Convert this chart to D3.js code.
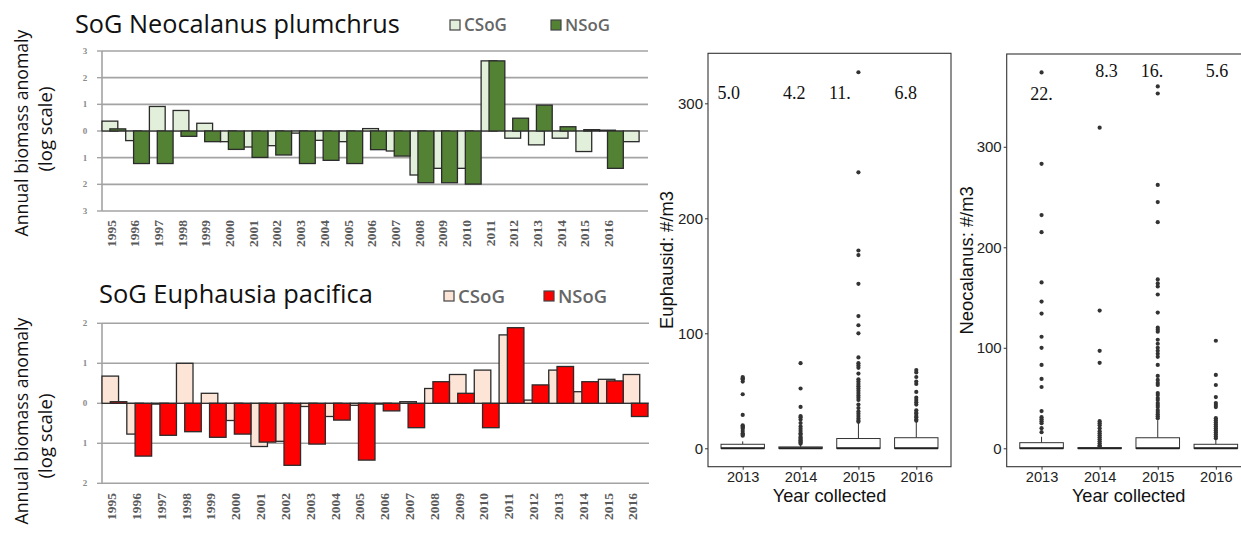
<!DOCTYPE html>
<html><head><meta charset="utf-8">
<script src="https://cdn.jsdelivr.net/npm/d3@7"></script>
<style>body{margin:0;background:#fff;} svg{display:block;}</style>
</head><body><svg id="c" width="1241" height="533"></svg>
<script>
// ---------- data: left anomaly bar charts ----------
const neoCategories = ["1995","1996","1997","1998","1999","2000","2001","2002","2003","2004","2005","2006","2007","2008","2009","2010","2011","2012","2013","2014","2015","2016",""];
const neoCSoG = [0.37,-0.36,0.92,0.77,0.29,-0.40,-0.60,-0.55,-0.08,-0.35,-0.40,0.09,-0.75,-1.65,-1.40,-1.40,2.63,-0.27,-0.52,-0.27,-0.77,0.03,-0.40];
const neoNSoG = [0.08,-1.22,-1.22,-0.20,-0.40,-0.69,-0.99,-0.90,-1.22,-1.10,-1.22,-0.70,-0.94,-1.94,-1.94,-1.99,2.63,0.48,0.97,0.16,0.05,-1.40,0];
const neoTicks = [3,2,1,0,-1,-2,-3];
const neoTickLabels = ["3","2","1","0","1","2","3"];

const euphCategories = ["1995","1996","1997","1998","1999","2000","2001","2002","2003","2004","2005","2006","2007","2008","2009","2010","2011","2012","2013","2014","2015","2016"];
const euphCSoG = [0.68,-0.77,-0.02,1.00,0.25,-0.43,-1.08,-0.95,-0.08,-0.33,-0.05,-0.02,0.04,0.37,0.72,0.83,1.71,0.08,0.83,0.29,0.60,0.72];
const euphNSoG = [0.04,-1.32,-0.80,-0.71,-0.85,-0.77,-0.97,-1.55,-1.02,-0.42,-1.42,-0.19,-0.61,0.54,0.25,-0.61,1.89,0.46,0.92,0.54,0.56,-0.33];
const euphTicks = [2,1,0,-1,-2];
const euphTickLabels = ["2","1","0","1","2"];
const seriesNames = ["CSoG","NSoG"];

// ---------- data: right box plots ----------
const boxYears = ["2013","2014","2015","2016"];
const boxTicks = [0,100,200,300];

const euBoxQ1 = [0,0,0,0];
const euBoxMedian = [0,0,0,0];
const euBoxQ3 = [3.5,1.2,8.5,9.2];
const euBoxWhiskerHi = [6,3,22,24];
const euOutliers = [
  [62,61,60,58,47,29,20,19,18,17,15,13,12,11],
  [74,52,36,28,27,25,22,19,17,15,13,12,10,9,8,7,6,5,4],
  [327,240,172,168,143,115,107,100,79,74,72,70,65,60,58,56,54,52,50,48,46,44,42,38,35,32,30,28,26,24,23],
  [68,66,62,58,56,49,44,42,40,38,33,31,30,28,27,25,24]
];
const euMeanText = ["5.0","4.2","11.","6.8"];
const euMeanX = [-0.24,0.89,1.68,2.82];
const euMeanY = [309,309,309,309];

const neBoxQ1 = [0,0,0,0];
const neBoxMedian = [0,0,0,0];
const neBoxQ3 = [5.6,0.5,10.5,4];
const neBoxWhiskerHi = [11.5,1,28,9];
const neOutliers = [
  [374,283,232,215,165,146,134,111,100,83,69,61,37,31,29,27,25,20,16],
  [319,137,97,85,27,25,23,20,17,15,13,11,9,7,5,3,2],
  [360,353,262,245,225,168,164,161,153,135,120,118,116,108,104,100,97,94,91,83,72,68,65,63,55,53,50,48,45,43,41,38,36,34,32,30],
  [107,73,63,51,45,43,41,30,28,26,24,22,20,18,16,14,12,10]
];
const neMeanText = ["22.","8.3","16.","5.6"];
const neMeanX = [0,1.12,1.9,3.02];
const neMeanY = [353,376,376,376];

// ---------- drawing ----------
const svg = d3.select("#c");
svg.append("rect").attr("width",1241).attr("height",533).attr("fill","#fff");

function fitText(sel, width){
  const n = sel.node();
  const base = parseFloat(sel.attr("font-size")) || 20;
  const len = n.getComputedTextLength();
  sel.attr("font-size", base*width/len);
  return sel;
}

function anomalyChart(o){
  const g = svg.append("g");
  const x = d3.scaleBand().domain(d3.range(o.cats.length)).range(o.xRange).padding(0);
  const y = d3.scaleLinear().domain(o.yDomain).range(o.yRange);
  const bw = x.bandwidth();
  g.selectAll(".grid").data(o.ticks).join("line")
    .attr("x1",o.xRange[0]).attr("x2",o.xRange[1]+1)
    .attr("y1",d=>y(d)).attr("y2",d=>y(d))
    .attr("stroke","#a3a3a3").attr("stroke-width",1.6);
  g.append("line").attr("x1",o.xRange[0]).attr("x2",o.xRange[0])
    .attr("y1",y(o.yDomain[0])).attr("y2",y(o.yDomain[1]))
    .attr("stroke","#a3a3a3").attr("stroke-width",1.6);
  g.selectAll(".tm").data(o.ticks).join("line")
    .attr("x1",o.xRange[0]-5).attr("x2",o.xRange[0]).attr("y1",d=>y(d)).attr("y2",d=>y(d))
    .attr("stroke","#a3a3a3").attr("stroke-width",1.4);
  g.selectAll(".tl").data(o.ticks).join("text")
    .attr("x",o.xRange[0]-17).attr("y",d=>y(d)).attr("dy","0.35em")
    .attr("text-anchor","middle").attr("font-family","Liberation Serif")
    .attr("font-size",9).attr("font-weight","bold").attr("fill","#8a8a8a")
    .text((d,i)=>o.tickLabels[i]);
  const bar = (vals, off, fill) => g.append("g").selectAll("rect").data(vals).join("rect")
    .attr("x",(d,i)=>x(i)+off*bw)
    .attr("width",bw*2/3)
    .attr("y",d=>Math.min(y(d),y(0)))
    .attr("height",d=>Math.abs(y(d)-y(0)))
    .attr("fill",fill).attr("stroke","#2b2b2b").attr("stroke-width",1.3);
  bar(o.c, 0, o.cColor);
  bar(o.n, 1/3, o.nColor);
  g.selectAll(".xl").data(o.cats).join("text")
    .attr("transform",(d,i)=>`translate(${x(i)+bw/2-3},${o.labelTop}) rotate(-90)`)
    .attr("dy","0.35em").attr("text-anchor","end")
    .attr("font-family","Liberation Serif").attr("font-size",13.5).attr("font-weight","bold")
    .attr("fill","#5a5a5a").text(d=>d);
  fitText(g.append("text").attr("x",o.title.x).attr("y",o.title.y)
    .attr("font-family","Open Sans").attr("font-size",24).attr("fill","#111").text(o.title.text), o.title.w);
  o.legend.forEach((L,i)=>{
    g.append("rect").attr("x",L.x).attr("y",L.y-5).attr("width",10).attr("height",10)
      .attr("fill",i===0?o.cColor:o.nColor).attr("stroke","#444").attr("stroke-width",1.2);
    fitText(g.append("text").attr("x",L.x+14).attr("y",L.y).attr("dy","0.36em")
      .attr("font-family","Open Sans").attr("font-weight","600").attr("font-size",15)
      .attr("fill","#666").text(seriesNames[i]), L.w);
  });
  o.ylab.forEach(L=>{
    fitText(g.append("text").attr("transform",`translate(${L.x},${L.cy}) rotate(-90)`)
      .attr("text-anchor","middle").attr("font-family","Open Sans").attr("font-size",18)
      .attr("fill","#111").text(L.text), L.w);
  });
}

anomalyChart({
  cats: neoCategories, c: neoCSoG, n: neoNSoG,
  xRange:[102,647], yDomain:[-3,3], yRange:[211,51],
  ticks: neoTicks, tickLabels: neoTickLabels,
  cColor:"#e2efda", nColor:"#548235", labelTop:220,
  title:{text:"SoG Neocalanus plumchrus", x:75, y:33, w:325},
  legend:[{x:450,y:25,w:43},{x:551,y:25,w:45}],
  ylab:[{text:"Annual biomass anomaly", x:28, cy:133, w:207},{text:"(log scale)", x:52, cy:129, w:85}]
});
anomalyChart({
  cats: euphCategories, c: euphCSoG, n: euphNSoG,
  xRange:[102,648], yDomain:[-2,2], yRange:[483.3,323.3],
  ticks: euphTicks, tickLabels: euphTickLabels,
  cColor:"#fce4d6", nColor:"#ff0000", labelTop:493,
  title:{text:"SoG Euphausia pacifica", x:99, y:303, w:274},
  legend:[{x:444,y:296,w:47},{x:544,y:296,w:49}],
  ylab:[{text:"Annual biomass anomaly", x:28, cy:421, w:207},{text:"(log scale)", x:52, cy:436, w:85}]
});

function boxPanel(o){
  const g = svg.append("g");
  const x = d3.scalePoint().domain(boxYears).range(o.xRange).padding(0.6);
  const step = x.step();
  const xi = v => x(boxYears[0]) + v*step;
  const y = d3.scaleLinear().domain(o.yDomain).range(o.yRange);
  g.append("rect").attr("x",o.xRange[0]).attr("y",o.yRange[1])
    .attr("width",o.xRange[1]-o.xRange[0]).attr("height",o.yRange[0]-o.yRange[1])
    .attr("fill","none").attr("stroke","#333").attr("stroke-width",1.1);
  const ya = g.append("g").attr("transform",`translate(${o.xRange[0]},0)`)
    .call(d3.axisLeft(y).tickValues(boxTicks).tickSize(3).tickPadding(2));
  ya.select(".domain").remove();
  ya.selectAll("line").attr("stroke","#333");
  ya.selectAll("text").attr("font-family","Liberation Sans").attr("font-size",15).attr("fill","#222");
  const xa = g.append("g").attr("transform",`translate(0,${o.yRange[0]})`)
    .call(d3.axisBottom(x).tickSize(3).tickPadding(2));
  xa.select(".domain").remove();
  xa.selectAll("line").attr("stroke","#333");
  xa.selectAll("text").attr("font-family","Liberation Sans").attr("font-size",14.6).attr("fill","#222");
  const bw = step*0.75;
  boxYears.forEach((yr,i)=>{
    const cx = x(yr);
    g.append("line").attr("x1",cx).attr("x2",cx).attr("y1",y(o.q3[i])).attr("y2",y(o.wh[i]))
      .attr("stroke","#333").attr("stroke-width",1);
    g.append("rect").attr("x",cx-bw/2).attr("width",bw)
      .attr("y",y(o.q3[i])).attr("height",Math.max(0,y(o.q1[i])-y(o.q3[i])))
      .attr("fill","#fff").attr("stroke","#333").attr("stroke-width",1);
    g.append("line").attr("x1",cx-bw/2).attr("x2",cx+bw/2).attr("y1",y(o.med[i])).attr("y2",y(o.med[i]))
      .attr("stroke","#222").attr("stroke-width",2);
    g.selectAll(null).data(o.out[i]).join("circle")
      .attr("cx",cx).attr("cy",d=>y(d)).attr("r",2.1).attr("fill","#333");
  });
  g.selectAll(".mt").data(o.meanText).join("text")
    .attr("x",(d,i)=>xi(o.meanX[i])).attr("y",(d,i)=>y(o.meanY[i])).attr("dy","0.35em")
    .attr("text-anchor","middle").attr("font-family","Liberation Serif").attr("font-size",18)
    .attr("fill","#111").text(d=>d);
  g.append("text").attr("x",(o.xRange[0]+o.xRange[1])/2).attr("y",502)
    .attr("text-anchor","middle").attr("font-family","Liberation Sans").attr("font-size",18.2)
    .attr("fill","#111").text("Year collected");
  g.append("text").attr("transform",`translate(${o.ytx},${(o.yRange[0]+o.yRange[1])/2}) rotate(-90)`)
    .attr("text-anchor","middle").attr("font-family","Liberation Sans").attr("font-size",18.4)
    .attr("fill","#111").text(o.ytitle);
}

boxPanel({
  xRange:[708,951], yDomain:[-16,343.5], yRange:[466.7,53.3],
  q1:euBoxQ1, med:euBoxMedian, q3:euBoxQ3, wh:euBoxWhiskerHi, out:euOutliers,
  meanText:euMeanText, meanX:euMeanX, meanY:euMeanY,
  ytitle:"Euphausid: #/m3", ytx:673
});
boxPanel({
  xRange:[1006.7,1250.7], yDomain:[-18.3,392.3], yRange:[466.7,54],
  q1:neBoxQ1, med:neBoxMedian, q3:neBoxQ3, wh:neBoxWhiskerHi, out:neOutliers,
  meanText:neMeanText, meanX:neMeanX, meanY:neMeanY,
  ytitle:"Neocalanus: #/m3", ytx:973
});
</script></body></html>
